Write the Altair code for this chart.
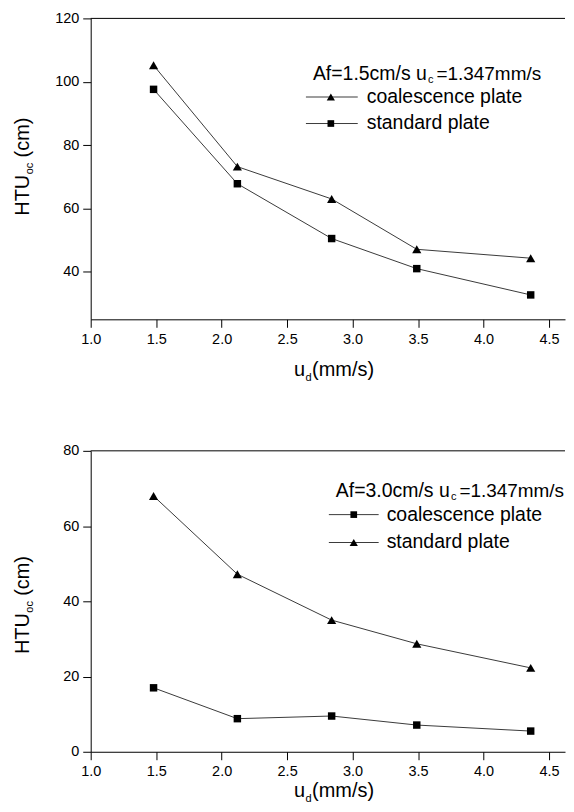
import altair as alt
import pandas as pd

# ---- data ----
ud = [1.48, 2.12, 2.84, 3.49, 4.36]
top_coal = [105.2, 73.2, 63.0, 47.1, 44.3]
top_std = [97.6, 67.8, 50.5, 41.0, 32.7]
bot_coal = [17.0, 8.8, 9.5, 7.1, 5.5]
bot_std = [68.0, 47.2, 35.0, 28.7, 22.3]
series = ["coalescence plate", "standard plate"]
x_ticks = [1.0, 1.5, 2.0, 2.5, 3.0, 3.5, 4.0, 4.5]
top_y_ticks = [40, 60, 80, 100, 120]
bot_y_ticks = [0, 20, 40, 60, 80]
top_cond = ["Af=1.5cm/s u", "c", "=1.347mm/s"]
bot_cond = ["Af=3.0cm/s u", "c", "=1.347mm/s"]
y_title = ["HTU", "oc", "(cm)"]
x_title = ["u", "d", "(mm/s)"]

FONT = "Liberation Sans"
TITLE_FS = 20
SUB_FS = 11
LEG_FS = 19.5
LEG_FS2 = 19
LINE_COLOR = "#3a3a3a"


def txt(s, x, y, size, angle=0, align="left", baseline="alphabetic"):
    kw = dict(font=FONT, fontSize=size, align=align, baseline=baseline, color="black")
    if angle:
        kw["angle"] = angle
    return alt.Chart(pd.DataFrame({"t": [s]})).mark_text(**kw).encode(
        x=alt.value(x), y=alt.value(y), text="t:N")


def panel(coal, std, shapes, sizes, ydom, yticks, W, H, xmax, cond, leg, ytitle, xtitle):
    df = pd.DataFrame({
        "ud": ud * 2,
        "htu": coal + std,
        "series": [series[0]] * len(ud) + [series[1]] * len(ud),
    })
    x = alt.X("ud:Q", scale=alt.Scale(domain=[1.0, xmax], nice=False, zero=False),
              axis=alt.Axis(values=x_ticks, format=".1f", title=None, labelPadding=5))
    y = alt.Y("htu:Q", scale=alt.Scale(domain=ydom, nice=False, zero=False),
              axis=alt.Axis(values=yticks, format="d", title=None, labelPadding=4))
    shape = alt.Shape("series:N", scale=alt.Scale(domain=series, range=shapes), legend=None)
    size = alt.Size("series:N", scale=alt.Scale(domain=series, range=sizes), legend=None)
    base = alt.Chart(df)
    lines = base.mark_line(color=LINE_COLOR, strokeWidth=1).encode(x=x, y=y, detail="series:N")
    pts = base.mark_point(filled=True, color="black", opacity=1).encode(
        x=x, y=y, shape=shape, size=size)
    frame = alt.Chart(pd.DataFrame({"f": [0]})).mark_rule(color="black", strokeWidth=1).encode(
        x=alt.value(0), x2=alt.value(W), y=alt.value(0))

    layers = [frame, lines, pts]

    # legend
    lx0, lx1, lm, lt, ltx, lty, rows = leg
    layers.append(txt(cond[0], ltx, lty, LEG_FS))
    layers.append(txt(cond[1], ltx + 115.5, lty + 3, SUB_FS))
    layers.append(txt(cond[2], ltx + 124, lty, LEG_FS2))
    for i, s in enumerate(series):
        ry = rows[i]
        layers.append(alt.Chart(pd.DataFrame({"s": [s]})).mark_rule(
            color=LINE_COLOR, strokeWidth=1).encode(
            x=alt.value(lx0), x2=alt.value(lx1), y=alt.value(ry)))
        layers.append(alt.Chart(pd.DataFrame({"s": [s]})).mark_point(
            filled=True, color="black", opacity=1, shape=shapes[i], size=sizes[i] * 0.8).encode(
            x=alt.value(lm), y=alt.value(ry)))
        layers.append(txt(s, lt, ry, LEG_FS, baseline="middle"))

    # y title (rotated)
    yx, yend = ytitle
    layers.append(txt(y_title[0], yx, yend, TITLE_FS, angle=270))
    layers.append(txt(y_title[1], yx + 4, yend - 41.6, SUB_FS, angle=270))
    layers.append(txt(y_title[2], yx, yend - 58.5, TITLE_FS, angle=270))

    # x title
    xs, xb = xtitle
    layers.append(txt(x_title[0], xs, H + xb, TITLE_FS))
    layers.append(txt(x_title[1], xs + 11.6, H + xb + 5, SUB_FS))
    layers.append(txt(x_title[2], xs + 18.2, H + xb, TITLE_FS))

    return alt.layer(*layers).properties(width=W, height=H)


top = panel(top_coal, top_std, ["triangle-up", "square"], [85, 56], [25, 120], top_y_ticks,
            476, 302, 4.622, top_cond,
            (216, 268, 241, 277, 223, 62.2, [78.9, 105.5]),
            (-62, 198), (204, 56.7))
bottom = panel(bot_coal, bot_std, ["square", "triangle-up"], [56, 85], [0, 80], bot_y_ticks,
               476, 302, 4.622, bot_cond,
               (239, 289, 264, 297, 246, 46.0, [64.0, 92.0]),
               (-62, 204), (204, 45.3))

chart = alt.vconcat(top, bottom, spacing=60).resolve_scale(
    shape="independent", size="independent"
).properties(
    padding={"left": 5, "top": 1, "right": 0, "bottom": 0}
).configure_view(stroke=None).configure_axis(
    domainColor="black", domainWidth=1, tickColor="black", tickSize=8, tickWidth=1,
    labelFont=FONT, labelFontSize=14.5, labelColor="black",
    labelFlush=False, labelOverlap=False, grid=False,
)

chart.save("out.html", embed_options={"renderer": "svg", "actions": False})
